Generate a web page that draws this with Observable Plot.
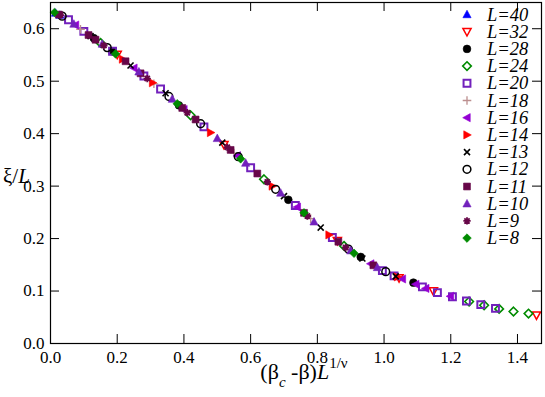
<!DOCTYPE html>
<html><head><meta charset="utf-8">
<script src="https://cdn.jsdelivr.net/npm/d3@7"></script>
<script src="https://cdn.jsdelivr.net/npm/@observablehq/plot@0.6"></script>
<style>
html,body{margin:0;padding:0;background:#fff;}
#chart{width:545px;height:397px;}
svg text{font-family:"Liberation Serif","DejaVu Serif",serif;}
</style></head><body><div id="chart"></div>
<script>
// ---- data (x = (βc-β)L^{1/ν}, y = ξ/L) ----
const L40 = [[0.015,0.630],[0.028,0.626]];
const L32 = [[0.20,0.551],[0.52,0.379],[0.86,0.196],[1.045,0.125],[1.148,0.100],[1.457,0.054]];
const L28 = [[0.13,0.582],[0.185,0.557],[0.385,0.454],[0.713,0.274],[0.93,0.165],[1.088,0.116]];
const L24 = [[0.15,0.573],[0.42,0.435],[0.64,0.313],[0.88,0.186],[1.255,0.080],[1.30,0.073],[1.345,0.066],[1.388,0.061],[1.433,0.057]];
const L20 = [[0.054,0.617],[0.10,0.595],[0.186,0.557],[0.28,0.510],[0.33,0.485],[0.46,0.413],[0.60,0.335],[0.734,0.263],[0.845,0.202],[0.995,0.139],[1.03,0.129],[1.115,0.108],[1.16,0.097],[1.205,0.089],[1.247,0.081],[1.29,0.074],[1.334,0.067]];
const L18 = [[0.09,0.599],[0.31,0.495],[0.55,0.363],[0.78,0.238]];
const L16 = [[0.075,0.607],[0.25,0.525],[0.40,0.446],[0.56,0.358],[0.74,0.260],[0.96,0.152],[1.055,0.123],[1.095,0.113],[1.125,0.105],[1.199,0.090]];
const L14 = [[0.216,0.542],[0.306,0.497],[0.48,0.402],[0.665,0.300],[0.835,0.207],[1.04,0.127]];
const L13 = [[0.12,0.586],[0.24,0.530],[0.345,0.477],[0.515,0.383],[0.70,0.281],[0.81,0.221],[0.935,0.162],[1.035,0.128]];
const L12 = [[0.035,0.624],[0.17,0.564],[0.355,0.471],[0.45,0.419],[0.563,0.356],[0.675,0.294],[0.893,0.180],[1.005,0.137]];
const L11 = [[0.025,0.627],[0.114,0.588],[0.135,0.579],[0.225,0.538],[0.27,0.515],[0.395,0.449],[0.435,0.427],[0.54,0.369],[0.62,0.324],[0.76,0.249],[0.863,0.194],[0.968,0.149]];
const L10 = [[0.07,0.609],[0.155,0.571],[0.265,0.518],[0.365,0.466],[0.50,0.391],[0.585,0.344],[0.69,0.287],[0.79,0.232],[0.90,0.177],[0.98,0.145]];
const L9  = [[0.03,0.626],[0.16,0.568],[0.29,0.505],[0.41,0.440],[0.53,0.374],[0.65,0.308],[0.77,0.243],[0.885,0.183]];
const L8  = [[0.012,0.631],[0.195,0.552],[0.38,0.457],[0.57,0.352],[0.76,0.249],[0.91,0.172]];

const labels = ["L=40","L=32","L=28","L=24","L=20","L=18","L=16","L=14","L=13","L=12","L=11","L=10","L=9","L=8"];
const xTicks = [0,0.2,0.4,0.6,0.8,1.0,1.2,1.4];
const yTicks = [0,0.1,0.2,0.3,0.4,0.5,0.6];

// ---- symbols ----
const mk = fn => ({draw(c, size){ fn(c, Math.sqrt(size/Math.PI)); }});
const shapes = {
  triUp:   (c,r)=>{c.moveTo(0,-r);c.lineTo(r*0.95,r*0.75);c.lineTo(-r*0.95,r*0.75);c.closePath();},
  triDown: (c,r)=>{c.moveTo(0,r);c.lineTo(r*0.95,-r*0.75);c.lineTo(-r*0.95,-r*0.75);c.closePath();},
  triLeft: (c,r)=>{c.moveTo(-r,0);c.lineTo(r*0.75,-r*0.95);c.lineTo(r*0.75,r*0.95);c.closePath();},
  triRight:(c,r)=>{c.moveTo(r,0);c.lineTo(-r*0.75,-r*0.95);c.lineTo(-r*0.75,r*0.95);c.closePath();},
  circle:  (c,r)=>{const q=r*0.9;c.moveTo(q,0);c.arc(0,0,q,0,2*Math.PI);c.closePath();},
  square:  (c,r)=>{const s=r*0.8;c.moveTo(-s,-s);c.lineTo(s,-s);c.lineTo(s,s);c.lineTo(-s,s);c.closePath();},
  diamond: (c,r)=>{const d=r*1.0;c.moveTo(0,-d);c.lineTo(d,0);c.lineTo(0,d);c.lineTo(-d,0);c.closePath();},
  plus:    (c,r)=>{c.moveTo(-r,0);c.lineTo(r,0);c.moveTo(0,-r);c.lineTo(0,r);},
  times:   (c,r)=>{const d=r*0.7;c.moveTo(-d,-d);c.lineTo(d,d);c.moveTo(-d,d);c.lineTo(d,-d);},
  star:    (c,r)=>{const d=r*0.85,e=d*0.72;c.moveTo(-d,0);c.lineTo(d,0);c.moveTo(0,-d);c.lineTo(0,d);c.moveTo(-e,-e);c.lineTo(e,e);c.moveTo(-e,e);c.lineTo(e,-e);}
};

const C = {blue:"#0000ff", red:"#ff0000", black:"#000000", green:"#008b00", indigo:"#7221bc", brown:"#bc8f8f", violet:"#9400d3", maroon:"#670748"};
const series = [
  {data:L40, shape:"triUp",   color:C.blue,   fill:true},
  {data:L32, shape:"triDown", color:C.red,    fill:false, sw:1.5},
  {data:L28, shape:"circle",  color:C.black,  fill:true},
  {data:L24, shape:"diamond", color:C.green,  fill:false, sw:1.6},
  {data:L20, shape:"square",  color:C.indigo, fill:false, sw:2},
  {data:L18, shape:"plus",    color:C.brown,  fill:false, sw:1.3},
  {data:L16, shape:"triLeft", color:C.violet, fill:true},
  {data:L14, shape:"triRight",color:C.red,    fill:true},
  {data:L13, shape:"times",   color:C.black,  fill:false, sw:1.6},
  {data:L12, shape:"circle",  color:C.black,  fill:false, sw:1.5},
  {data:L11, shape:"square",  color:C.maroon, fill:true},
  {data:L10, shape:"triUp",   color:C.indigo, fill:true},
  {data:L9,  shape:"star",    color:C.maroon, fill:false, sw:1.8},
  {data:L8,  shape:"diamond", color:C.green,  fill:true}
];
series.forEach((s,i)=>{ s.label = labels[i]; s.symbol = mk(shapes[s.shape]); });

const W = 545, H = 397, mL = 50, mR = 4, mT = 2, mB = 54;
const PW = W - mL - mR, PH = H - mT - mB, TL = 9;
const serif = '"Liberation Serif","DejaVu Serif",serif';

const dotMarks = series.map(s => Plot.dot(s.data, {
  x: d => d[0], y: d => d[1], r: 4.3, symbol: s.symbol,
  fill: s.fill ? s.color : "none", stroke: s.color,
  strokeWidth: s.fill ? 0.6 : s.sw
}));

const axisFont = {fontFamily: "Liberation Serif", fontSize: 17, fontVariant: "normal"};
const plot = Plot.plot({
  width: W, height: H,
  marginLeft: mL, marginRight: mR, marginTop: mT, marginBottom: mB,
  style: {fontFamily: "Liberation Serif", fontSize: "17px", color: "black", background: "white", overflow: "visible"},
  x: {domain: [0, 1.472]},
  y: {domain: [0, 0.65]},
  marks: [
    Plot.axisX({ticks: xTicks, tickSize: 0, tickPadding: 7, tickFormat: d3.format(".1f"), label: null, ...axisFont}),
    Plot.axisY({ticks: yTicks, tickSize: 0, tickPadding: 6, tickFormat: d3.format(".1f"), label: null, ...axisFont}),
    Plot.tickX(xTicks, {x: d => d, insetTop: PH - TL, stroke: "black", strokeWidth: 1}),
    Plot.tickX(xTicks, {x: d => d, insetBottom: PH - TL, stroke: "black", strokeWidth: 1}),
    Plot.tickY(yTicks, {y: d => d, insetRight: PW - TL, stroke: "black", strokeWidth: 1}),
    Plot.tickY(yTicks, {y: d => d, insetLeft: PW - TL, stroke: "black", strokeWidth: 1}),
    ...dotMarks,
    Plot.frame({stroke: "black", strokeWidth: 1.2})
  ]
});

const svg = d3.select(plot);
svg.selectAll("g").attr("font-family", "Liberation Serif");
svg.selectAll("text").attr("font-family", "Liberation Serif").style("font-family", serif).style("font-size", "17px");

// y-axis label ξ/L
const yl = svg.append("text").attr("x", 3).attr("y", 183).attr("text-anchor", "start")
  .style("font-family", serif).style("font-size", "21px").attr("fill", "black");
yl.append("tspan").text("ξ/");
yl.append("tspan").attr("font-style", "italic").text("L");

// x-axis label (βc-β)L^{1/ν}
const xl = svg.append("text").attr("x", 304).attr("y", 379).attr("text-anchor", "middle")
  .style("font-family", serif).style("font-size", "22px").attr("fill", "black");
xl.append("tspan").text("(β");
xl.append("tspan").attr("font-style", "italic").style("font-size", "15px").attr("dy", 8).text("c");
xl.append("tspan").attr("dy", -8).text(" -β)");
xl.append("tspan").attr("font-style", "italic").text("L");
xl.append("tspan").style("font-size", "15px").attr("dy", -11).text("1/ν");

// legend
const lg = svg.append("g");
series.forEach((s, i) => {
  const cy = 14.5 + i * 17.2;
  const p = d3.path();
  shapes[s.shape](p, 4.3);
  lg.append("path").attr("d", p.toString()).attr("transform", `translate(467,${cy})`)
    .attr("fill", s.fill ? s.color : "none").attr("stroke", s.color)
    .attr("stroke-width", s.fill ? 0.6 : s.sw);
  lg.append("text").attr("x", 487).attr("y", cy + 6).attr("text-anchor", "start")
    .style("font-family", serif).attr("font-style", "italic").style("font-size", "18.5px")
    .attr("fill", "black").text(s.label);
});

document.getElementById("chart").appendChild(plot);
</script>
</body></html>
